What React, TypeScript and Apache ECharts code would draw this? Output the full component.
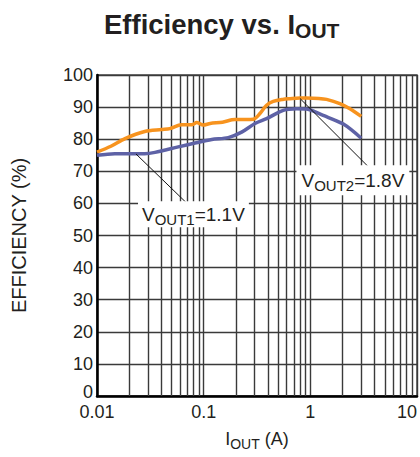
import React, { useEffect, useRef } from "react";
import * as echarts from "echarts";

// ---- data ----
const xTickLabels = ["0.01", "0.1", "1", "10"];
const yMin = 0;
const yMax = 100;
const yStep = 10;
const minorGridCurrents = [
  0.02, 0.03, 0.04, 0.05, 0.06, 0.07, 0.08, 0.09,
  0.2, 0.3, 0.4, 0.5, 0.6, 0.7, 0.8, 0.9,
  2, 3, 4, 5, 6, 7, 8, 9,
];

// VOUT2 = 1.8V (orange)
const vout2Current = [0.01, 0.0135, 0.0183, 0.028, 0.0404, 0.0483, 0.062, 0.078, 0.086, 0.099, 0.115, 0.15, 0.196, 0.25, 0.292, 0.337, 0.389, 0.449, 0.55, 0.644, 0.8, 0.923, 1.2, 1.42, 1.89, 2.35, 3.0];
const vout2Eff = [76.0, 77.8, 80.2, 82.4, 83.0, 83.3, 84.5, 84.5, 85.2, 84.4, 84.9, 85.3, 86.1, 86.1, 86.2, 88.0, 90.6, 91.8, 92.4, 92.6, 92.8, 92.8, 92.7, 92.4, 91.1, 89.5, 87.1];

// VOUT1 = 1.1V (blue)
const vout1Current = [0.01, 0.0147, 0.028, 0.035, 0.0578, 0.083, 0.119, 0.17, 0.227, 0.303, 0.389, 0.557, 0.745, 0.923, 1.32, 2.04, 3.0];
const vout1Eff = [75.0, 75.5, 75.5, 75.9, 77.6, 78.8, 79.9, 80.5, 82.2, 84.9, 86.4, 89.0, 89.5, 89.4, 87.4, 84.7, 80.3];

// annotations (data coordinates)
const leader1 = [[0.0232, 75.4], [0.0698, 60.0]];
const leader2 = [[0.799, 92.7], [3.78, 70.3]];
const label1Pos = [0.0802, 56.6];
const label2Pos = [2.506, 67.2];
const label1Parts = ["V", "OUT1", "=1.1V"];
const label2Parts = ["V", "OUT2", "=1.8V"];

const FONT = "'Liberation Sans', Arial, Helvetica, sans-serif";
const TEXT = "#231f20";
const GRID = "#3a3a3a";
const ORANGE = "#f7931e";
const BLUE = "#5e62a6";

const zip = (xs: number[], ys: number[]) => xs.map((x, i) => [x, ys[i]]);

const subRich = {
  a: { fontFamily: FONT, fontSize: 19, color: TEXT, lineHeight: 22 },
  b: { fontFamily: FONT, fontSize: 15, color: TEXT, lineHeight: 15, padding: [11, 0, 0, 0] },
};

const labelText = (p: string[]) => `{a|${p[0]}}{b|${p[1]}}{a|${p[2]}}`;

export default function App() {
  const ref = useRef<HTMLDivElement>(null);
  useEffect(() => {
    if (!ref.current) return;
    const chart = echarts.init(ref.current, undefined, { renderer: "svg" });
    const option: any = {
      animation: false,
      backgroundColor: "#ffffff",
      title: {
        left: 99,
        top: 4,
        text: "{a|Efficiency vs. I}{b|OUT}",
        textStyle: {
          rich: {
            a: { fontFamily: FONT, fontSize: 27.5, fontWeight: "bold", color: TEXT, lineHeight: 30 },
            b: { fontFamily: FONT, fontSize: 21, fontWeight: "bold", color: TEXT, lineHeight: 21, padding: [12, 0, 0, 0] },
          },
        },
      },
      grid: {
        left: 97,
        right: 3,
        top: 75,
        bottom: 61,
        show: true,
        borderColor: "#4a4a4a",
        borderWidth: 1.5,
        backgroundColor: "transparent",
      },
      xAxis: {
        type: "log",
        logBase: 10,
        min: 0.01,
        max: 10,
        name: "{a|I}{b|OUT}{a| (A)}",
        nameLocation: "middle",
        nameGap: 32,
        nameTextStyle: {
          rich: {
            a: { fontFamily: FONT, fontSize: 18, color: TEXT, lineHeight: 21 },
            b: { fontFamily: FONT, fontSize: 14, color: TEXT, lineHeight: 14, padding: [10, 0, 0, 0] },
          },
        },
        axisLine: { show: true, lineStyle: { color: "#000", width: 2.5 } },
        axisTick: { show: false },
        splitLine: { show: true, lineStyle: { color: GRID, width: 1.4 } },
        axisLabel: {
          fontFamily: FONT,
          fontSize: 18,
          color: TEXT,
          margin: 7,
          alignMaxLabel: "right",
          formatter: (v: number) => xTickLabels[Math.round(Math.log10(v)) + 2] ?? "",
        },
      },
      yAxis: {
        type: "value",
        min: yMin,
        max: yMax,
        interval: yStep,
        name: "EFFICIENCY (%)",
        nameLocation: "middle",
        nameRotate: 90,
        nameGap: 68,
        nameTextStyle: { fontFamily: FONT, fontSize: 20, color: TEXT },
        axisLine: { show: true, lineStyle: { color: "#000", width: 2.5 } },
        axisTick: { show: false },
        splitLine: { show: true, lineStyle: { color: GRID, width: 1.4 } },
        axisLabel: {
          fontFamily: FONT,
          fontSize: 18,
          color: TEXT,
          margin: 4,
          formatter: (v: number) => (v === 0 ? "{z|0}" : String(v)),
          rich: { z: { fontFamily: FONT, fontSize: 18, color: TEXT, padding: [0, 0, 8, 0] } },
        },
      },
      series: [
        {
          name: "grid",
          type: "line",
          data: [],
          silent: true,
          markLine: {
            silent: true,
            z: 1,
            symbol: ["none", "none"],
            label: { show: false },
            lineStyle: { color: GRID, width: 1.4, type: "solid" },
            data: minorGridCurrents.map((v) => ({ xAxis: v })),
          },
        },
        {
          name: "VOUT2=1.8V",
          type: "line",
          z: 3,
          data: zip(vout2Current, vout2Eff),
          smooth: 0.3,
          showSymbol: false,
          lineStyle: { color: ORANGE, width: 3.5 },
          itemStyle: { color: ORANGE },
        },
        {
          name: "VOUT1=1.1V",
          type: "line",
          z: 3,
          data: zip(vout1Current, vout1Eff),
          smooth: 0.3,
          showSymbol: false,
          lineStyle: { color: BLUE, width: 3.5 },
          itemStyle: { color: BLUE },
        },
        {
          name: "annotations",
          type: "line",
          data: [],
          silent: true,
          markLine: {
            silent: true,
            z: 6,
            symbol: ["none", "none"],
            label: { show: false },
            lineStyle: { color: "#111", width: 1, type: "solid" },
            data: [
              [{ coord: leader1[0] }, { coord: leader1[1] }],
              [{ coord: leader2[0] }, { coord: leader2[1] }],
            ],
          },
          markPoint: {
            silent: true,
            z: 10,
            symbol: "rect",
            symbolSize: 1,
            itemStyle: { color: "transparent" },
            label: {
              show: true,
              position: "inside",
              backgroundColor: "#ffffff",
              padding: [2, 4, 2, 4],
              rich: subRich,
            },
            data: [
              { coord: label1Pos, label: { formatter: labelText(label1Parts) } },
              { coord: label2Pos, label: { formatter: labelText(label2Parts), padding: [4, 5, 4, 5] } },
            ],
          },
        },
      ],
    };
    chart.setOption(option);
    return () => chart.dispose();
  }, []);
  return (
    <div
      ref={ref}
      style={{ position: "absolute", left: 0, top: 0, width: 420, height: 457 }}
    />
  );
}
